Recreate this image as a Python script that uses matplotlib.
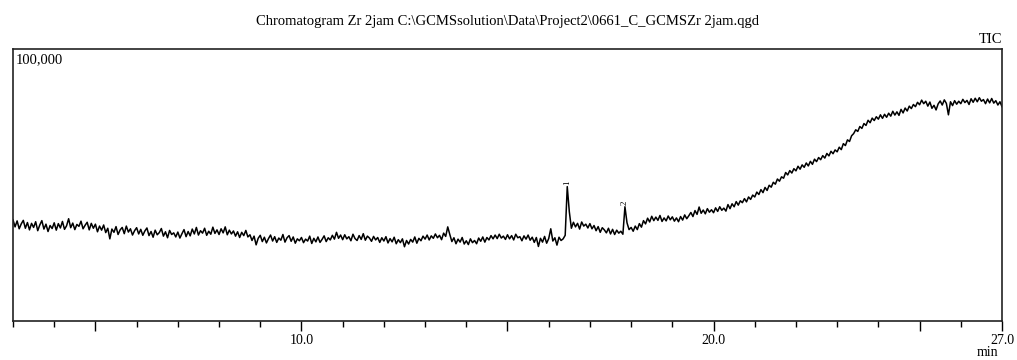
import numpy as np
import matplotlib
matplotlib.use("Agg")
from matplotlib import pyplot as plt
from matplotlib.ticker import FixedLocator, MultipleLocator

plt.rcParams["font.family"] = ["Liberation Serif", "DejaVu Serif"]

title = "Chromatogram Zr 2jam C:\\GCMSsolution\\Data\\Project2\\0661_C_GCMSZr 2jam.qgd"

# TIC trace, sampled every 0.05 min from 3.0 to 27.0 min (intensity in thousands)
t_start = 3.0
t_step = 0.05
tic_k = [
    37.2, 34.6, 36.8, 33.9, 35.7, 37.0, 34.1, 36.2, 33.5, 35.9, 34.4, 36.5, 33.2, 35.3, 36.9, 33.8, 35.6, 32.9, 35.1, 34.0,
    36.1, 33.4, 35.8, 34.2, 36.6, 33.7, 35.0, 37.6, 34.3, 36.0, 33.6, 35.5, 34.8, 36.7, 33.9, 35.2, 36.3, 33.5, 35.9, 34.1,
    35.6, 32.8, 34.9, 33.4, 35.3, 32.5, 34.1, 30.2, 33.8, 32.6, 34.7, 31.8, 33.5, 34.4, 32.1, 34.9, 32.7, 33.9, 31.6, 33.2,
    34.3, 32.0, 33.7, 31.5, 33.1, 34.2, 31.4, 32.9, 30.8, 33.4, 31.7, 32.5, 34.0, 31.2, 32.8, 30.6, 33.3, 31.8, 32.4, 30.9,
    32.7, 30.5, 32.1, 33.6, 31.0, 32.9, 31.3, 33.8, 32.0, 34.4, 31.6, 33.2, 32.3, 34.1, 31.5, 33.0, 31.9, 34.5, 32.2, 33.5,
    31.8, 33.9, 32.4, 34.6, 31.7, 33.4, 32.0, 33.1, 31.2, 32.8, 30.7, 32.6, 31.4, 33.3, 30.9, 31.7, 29.6, 31.2, 28.0, 30.4,
    31.5, 29.2, 30.8, 28.7, 30.3, 31.6, 29.4, 31.0, 28.9, 30.5, 29.7, 31.8, 29.0, 30.6, 31.4, 29.3, 30.9, 28.6, 30.2, 29.5,
    30.7, 28.8, 30.1, 29.4, 31.2, 28.5, 30.4, 29.1, 30.9, 28.9, 30.0, 31.3, 29.2, 30.6, 29.8, 31.5, 30.1, 32.6, 30.4, 31.6,
    29.9, 31.7, 30.2, 31.0, 29.5, 31.9, 30.3, 29.6, 31.4, 30.0, 32.1, 29.7, 31.2, 30.5, 29.3, 31.1, 29.8, 30.7, 28.9, 30.6,
    29.4, 31.0, 28.7, 30.3, 29.1, 30.8, 28.4, 29.9, 28.8, 30.2, 27.3, 29.6, 28.3, 30.0, 29.0, 30.9, 28.6, 30.4, 29.5, 31.2,
    30.1, 31.6, 29.8, 31.3, 30.4, 32.0, 30.6, 31.5, 29.9, 32.3, 31.1, 34.6, 31.8, 29.2, 30.6, 28.4, 30.1, 29.0, 30.7, 28.3,
    29.5, 28.1, 30.2, 28.8, 29.6, 28.4, 30.5, 29.3, 30.9, 29.0, 30.7, 29.8, 31.4, 30.2, 31.6, 30.3, 31.9, 30.5, 31.2, 30.0,
    31.7, 30.2, 31.4, 29.8, 31.9, 30.6, 31.0, 29.5, 31.3, 30.1, 31.6, 29.7, 30.8, 28.9, 30.7, 27.4, 30.4, 29.0, 31.1, 28.6,
    30.3, 33.9, 29.4, 30.6, 27.9, 30.8, 29.6, 30.2, 31.5, 49.4, 40.2, 34.1, 36.3, 34.6, 35.9, 33.8, 36.4, 34.9, 35.6, 34.2,
    35.8, 33.9, 35.1, 33.2, 34.7, 32.6, 34.3, 33.5, 32.4, 34.1, 32.0, 33.7, 31.8, 33.4, 32.3, 33.0, 31.9, 42.0, 36.1, 33.6,
    34.4, 33.0, 34.9, 33.6, 35.8, 34.5, 36.9, 35.7, 37.8, 36.4, 38.5, 36.9, 38.2, 37.0, 38.8, 36.6, 37.9, 36.8, 38.6, 37.2,
    38.3, 36.7, 37.9, 36.5, 38.4, 37.1, 39.0, 37.6, 38.7, 39.9, 38.4, 40.6, 39.2, 41.9, 39.6, 40.8, 39.4, 41.3, 40.0, 40.9,
    39.8, 41.6, 40.3, 42.0, 40.7, 41.5, 40.4, 42.8, 41.3, 43.1, 42.0, 43.9, 42.6, 44.2, 43.5, 45.0, 43.8, 45.6, 44.7, 46.3,
    45.6, 47.4, 46.5, 48.3, 47.2, 49.1, 48.0, 49.9, 49.2, 51.0, 50.3, 52.2, 51.4, 53.0, 52.5, 54.6, 53.7, 55.3, 54.4, 56.0,
    55.2, 56.9, 55.8, 57.4, 56.5, 58.1, 57.0, 58.7, 57.6, 59.5, 58.6, 60.1, 59.3, 60.8, 59.9, 61.6, 60.7, 62.4, 61.5, 62.9,
    62.2, 63.9, 63.0, 65.2, 64.5, 66.6, 66.0, 68.1, 68.9, 70.3, 69.7, 71.5, 70.8, 72.6, 71.9, 73.8, 72.9, 74.6, 73.7, 75.1,
    74.2, 75.8, 74.5, 76.0, 74.9, 76.4, 75.3, 77.1, 75.7, 76.9, 75.6, 77.8, 76.5, 78.3, 77.2, 79.0, 78.1, 79.6, 78.8, 80.4,
    79.5, 81.2, 79.9, 80.8, 79.0, 80.5, 78.2, 79.3, 77.6, 79.8, 80.9, 79.4, 81.3, 80.0, 75.8, 80.6, 79.2, 81.0, 79.7, 80.8,
    79.9, 81.5, 80.3, 81.1, 79.6, 81.7, 80.4, 81.9, 80.6, 82.1, 80.8, 81.4, 79.9, 81.6, 80.2, 81.8, 80.1, 81.0, 79.4, 80.6,
    78.8,
]

# labelled peaks: sample index of the apex and its label
peak_idx = [269, 297]
peak_labels = ["1", "2"]

tic = np.array(tic_k) * 1000.0
times = t_start + t_step * np.arange(len(tic))

fig = plt.figure(figsize=(10.17, 3.6), dpi=100)
ax = fig.add_axes([13 / 1017, 1 - 321 / 360, 989 / 1017, 272 / 360])

ax.plot(times, tic, color="black", lw=1.1)

for i, lab in zip(peak_idx, peak_labels):
    ax.annotate(lab, (times[i], tic[i]), xytext=(0, 1), textcoords="offset points",
                ha="center", va="bottom", rotation=90, fontsize=6.5)

ax.set_xlim(3.0, 27.0)
ax.set_ylim(0, 100000)

ax.xaxis.set_major_locator(FixedLocator([5, 10, 15, 20, 25, 27]))
ax.set_xticklabels(["", "10.0", "", "20.0", "", "27.0"])
ax.xaxis.set_minor_locator(MultipleLocator(1))
ax.tick_params(axis="x", which="major", length=7, width=1, labelsize=10, pad=2)
ax.tick_params(axis="x", which="minor", length=4, width=1)
ax.set_yticks([])

for s in ax.spines.values():
    s.set_linewidth(1.2)
    s.set_color("#222222")

ax.text(0.003, 0.985, "100,000", transform=ax.transAxes, ha="left", va="top", fontsize=10.5)
ax.text(1.0, 1.01, "TIC", transform=ax.transAxes, ha="right", va="bottom", fontsize=10.5)
fig.text(998 / 1017, 1 - 352 / 360, "min", ha="right", va="center", fontsize=10)
fig.text(507 / 1017, 1 - 22 / 360, title, ha="center", va="center", fontsize=10.5)

fig.savefig("out.png", dpi=100)
